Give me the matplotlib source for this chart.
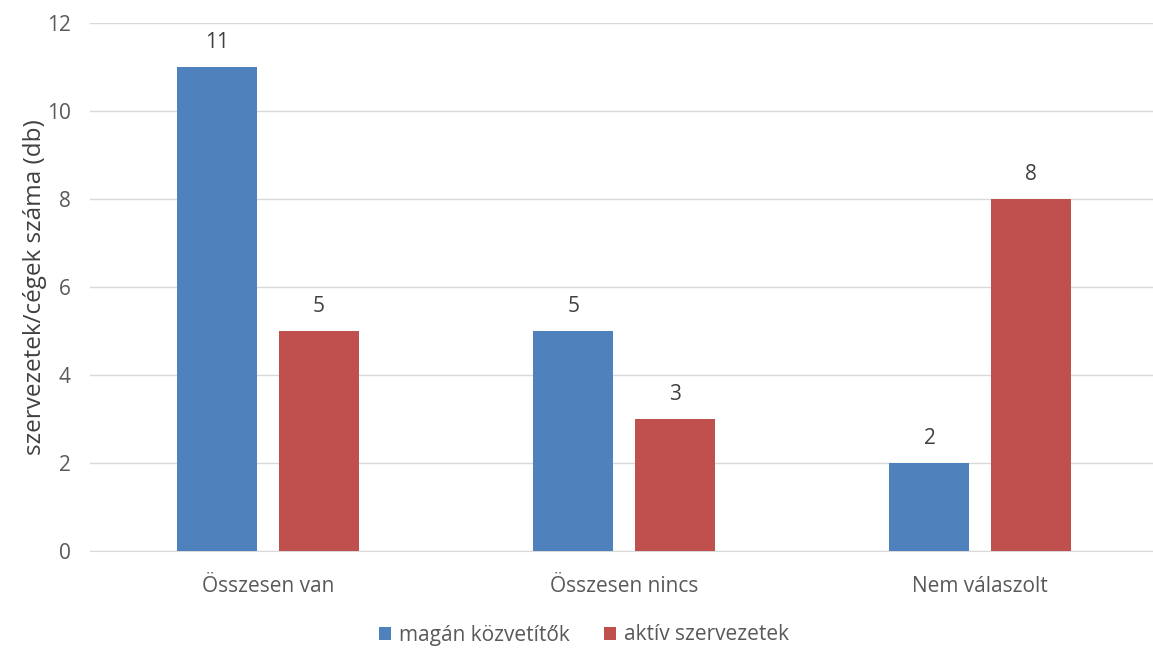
import numpy as np
import matplotlib.pyplot as plt

plt.rcParams['font.family'] = ['Open Sans', 'DejaVu Sans']

categories = ['Összesen van', 'Összesen nincs', 'Nem válaszolt']
magan = [11, 5, 2]
aktiv = [5, 3, 8]
series_names = ['magán közvetítők', 'aktív szervezetek']
colors = ['#4F81BD', '#C0504D']

fig = plt.figure(figsize=(11.53, 6.48), dpi=100)
ax = fig.add_axes([90 / 1153, 1 - 551 / 648, 1068 / 1153, 528 / 648])

x = np.arange(len(categories))
w = 0.225
off = 0.142
b1 = ax.bar(x - off, magan, w, color=colors[0], label=series_names[0], zorder=3)
b2 = ax.bar(x + off, aktiv, w, color=colors[1], label=series_names[1], zorder=3)

for bars in (b1, b2):
    for r in bars:
        ax.text(r.get_x() + r.get_width() / 2, r.get_height() + 0.32,
                f'{int(r.get_height())}', ha='center', va='bottom',
                fontsize=15, color='#404040')

ax.set_xlim(-0.5, 2.5)
ax.set_ylim(0, 12)
ax.set_yticks(range(0, 13, 2))
ax.set_xticks(x)
ax.set_xticklabels(categories)
ax.tick_params(axis='both', length=0, labelsize=15, colors='#595959')
ax.tick_params(axis='y', pad=14)
ax.tick_params(axis='x', pad=18)
ax.yaxis.grid(True, color='#D9D9D9', linewidth=1, zorder=0)
for s in ['top', 'right', 'left']:
    ax.spines[s].set_visible(False)
ax.spines['bottom'].set_color('#D9D9D9')
ax.set_ylabel('szervezetek/cégek száma (db)', fontsize=17.5, color='#404040', labelpad=0)

h, l = ax.get_legend_handles_labels()
fig.legend(h, l, loc='center', bbox_to_anchor=(584 / 1153, 1 - 635 / 648), ncol=2,
           frameon=False, fontsize=15, handlelength=0.6, handleheight=0.6,
           handletextpad=0.4, columnspacing=1.6, labelcolor='#595959',
           borderpad=0, borderaxespad=0)

fig.savefig('out.png', dpi=100)
